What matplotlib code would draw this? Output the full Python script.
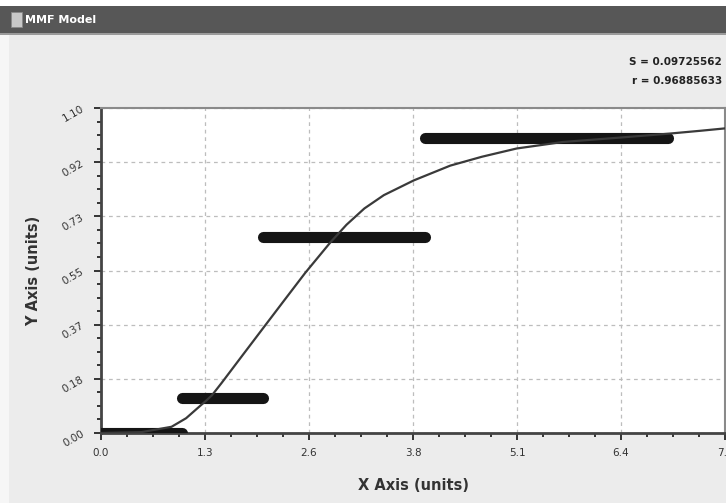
import numpy as np
import matplotlib
matplotlib.use("Agg")
import matplotlib.pyplot as plt
from matplotlib.patches import Rectangle
from matplotlib.ticker import FixedLocator, AutoMinorLocator

# observed data, drawn as thick horizontal bars
bar_y = [0.0, 0.117, 0.662, 1.0]
bar_x0 = [0.0, 1.0, 2.0, 4.0]
bar_x1 = [1.0, 2.0, 4.0, 7.0]

# fitted MMF curve
curve_x = [0.0, 0.5, 0.87, 1.05, 1.22, 1.30, 1.37, 1.49, 1.76, 2.02, 2.25,
           2.52, 2.83, 3.03, 3.25, 3.49, 3.86, 4.31, 4.70, 5.13, 5.70, 6.41,
           7.00, 7.40, 7.70]
curve_y = [0.0, 0.003, 0.021, 0.05, 0.091, 0.11, 0.128, 0.17, 0.268, 0.362,
           0.445, 0.542, 0.645, 0.705, 0.76, 0.805, 0.855, 0.905, 0.935,
           0.963, 0.985, 1.0, 1.013, 1.023, 1.031]

x_ticks = [0.0, 7.7 / 6, 7.7 * 2 / 6, 7.7 * 3 / 6, 7.7 * 4 / 6, 7.7 * 5 / 6, 7.7]
x_labels = ["0.0", "1.3", "2.6", "3.8", "5.1", "6.4", "7.7"]
y_ticks = [1.1 * i / 6 for i in range(7)]
y_labels = ["0.00", "0.18", "0.37", "0.55", "0.73", "0.92", "1.10"]

stats = ["S = 0.09725562", "r = 0.96885633"]

fig = plt.figure(figsize=(7.26, 5.03), dpi=100)
fig.patch.set_facecolor("#ececec")

# window frame: white strip at the left and title bar
fig.patches.append(Rectangle((0, 0), 9 / 726, 1, transform=fig.transFigure,
                             facecolor="#f6f6f6", edgecolor="none", zorder=0))
fig.patches.append(Rectangle((0, 1 - 33 / 503), 1, 27 / 503, transform=fig.transFigure,
                             facecolor="#575757", edgecolor="none", zorder=1))
fig.patches.append(Rectangle((0, 1 - 35 / 503), 1, 2 / 503, transform=fig.transFigure,
                             facecolor="#9a9a9a", edgecolor="none", zorder=1))
fig.patches.append(Rectangle((0, 1 - 6 / 503), 1, 6 / 503, transform=fig.transFigure,
                             facecolor="#ffffff", edgecolor="none", zorder=1))
fig.patches.append(Rectangle((11 / 726, 1 - 27 / 503), 11 / 726, 15 / 503,
                             transform=fig.transFigure, facecolor="#c8c8c8",
                             edgecolor="#888888", lw=0.6, zorder=2))
fig.text(25 / 726, 1 - 20 / 503, "MMF Model", color="white", fontsize=8,
         fontweight="bold", va="center", ha="left")

for i, s in enumerate(stats):
    fig.text(722 / 726, 1 - (62 + 19 * i) / 503, s, ha="right", va="center",
             fontsize=7.5, fontweight="bold", color="#222222")

ax = fig.add_axes([101 / 726, 1 - 433 / 503, 624 / 726, 325 / 503])
ax.set_facecolor("white")
ax.set_xlim(0, 7.7)
ax.set_ylim(0, 1.1)

for y, a, b in zip(bar_y, bar_x0, bar_x1):
    ax.plot([a, b], [y, y], color="#151515", lw=8, solid_capstyle="round",
            zorder=3)

ax.plot(curve_x, curve_y, color="#3a3a3a", lw=1.6, zorder=4)

ax.xaxis.set_major_locator(FixedLocator(x_ticks))
ax.yaxis.set_major_locator(FixedLocator(y_ticks))
ax.set_xticklabels(x_labels)
ax.set_yticklabels(y_labels, rotation=30)
ax.xaxis.set_minor_locator(AutoMinorLocator(4))
ax.yaxis.set_minor_locator(AutoMinorLocator(4))
ax.tick_params(which="major", length=5, width=1.4, color="#333333",
               labelsize=7.5, labelcolor="#333333", pad=6)
ax.tick_params(which="minor", length=3, width=1.4, color="#333333")

ax.grid(True, which="major", ls=(0, (3, 3)), color="#bdbdbd", lw=0.9)
ax.set_axisbelow(True)

for side in ["left", "bottom"]:
    ax.spines[side].set_linewidth(2)
    ax.spines[side].set_color("#444444")
ax.spines["top"].set_linewidth(1.5)
ax.spines["top"].set_color("#8a8a8a")
ax.spines["right"].set_linewidth(1.5)
ax.spines["right"].set_color("#8a8a8a")

ax.set_xlabel("X Axis (units)", fontsize=10.5, color="#333333", labelpad=14)
ax.set_ylabel("Y Axis (units)", fontsize=10.5, color="#333333", labelpad=14,
              fontweight="bold")
ax.xaxis.label.set_fontweight("bold")

fig.savefig("out.png", dpi=100, facecolor=fig.get_facecolor())
